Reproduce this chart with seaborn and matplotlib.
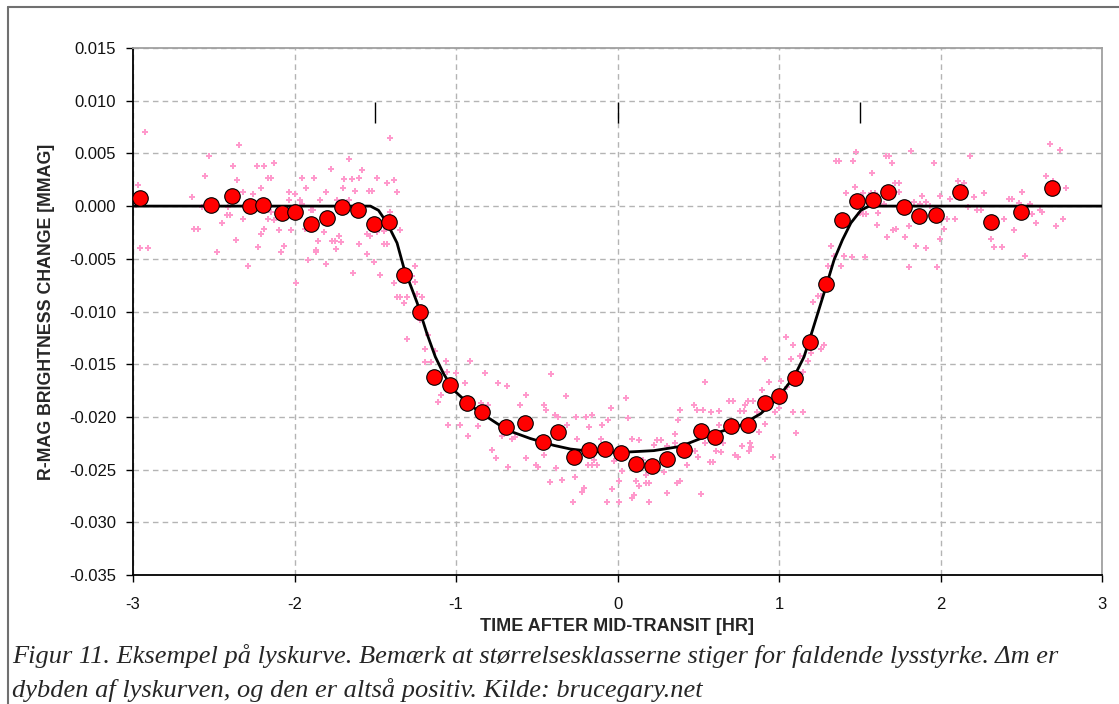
import numpy as np
import pandas as pd
import matplotlib
matplotlib.use('Agg')
import matplotlib.pyplot as plt
import seaborn as sns
from matplotlib.ticker import FormatStrFormatter
from matplotlib.lines import Line2D

# binned points (red circles)
bin_x = [-2.957, -2.516, -2.386, -2.277, -2.194, -2.080, -1.996, -1.895, -1.800, -1.704,
         -1.605, -1.510, -1.415, -1.322, -1.225, -1.138, -1.035, -0.932, -0.836, -0.688,
         -0.572, -0.460, -0.367, -0.272, -0.177, -0.078, 0.019, 0.116, 0.213, 0.304,
         0.414, 0.515, 0.602, 0.703, 0.810, 0.915, 1.002, 1.101, 1.191, 1.290,
         1.393, 1.483, 1.582, 1.675, 1.774, 1.865, 1.974, 2.121, 2.311, 2.499, 2.691]
bin_y = [0.0008, 0.0001, 0.0010, 0.0000, 0.0001, -0.0007, -0.0006, -0.0017, -0.0011, -0.0001,
         -0.0004, -0.0017, -0.0015, -0.0065, -0.0100, -0.0162, -0.0170, -0.0187, -0.0195, -0.0210,
         -0.0206, -0.0224, -0.0214, -0.0238, -0.0231, -0.0230, -0.0234, -0.0245, -0.0247, -0.0240,
         -0.0231, -0.0213, -0.0219, -0.0209, -0.0208, -0.0187, -0.0180, -0.0163, -0.0129, -0.0074,
         -0.0013, 0.00045, 0.00054, 0.0013, -0.0001, -0.00095, -0.00085, 0.0013, -0.0015, -0.0006, 0.0017]

# model fit (black line)
model_x = [-3.0, -1.53, -1.48, -1.427, -1.365, -1.324, -1.24, -1.18, -1.128, -1.077,
           -1.015, -0.911, -0.808, -0.684, -0.54, -0.395, -0.291, -0.147, 0.019, 0.225,
           0.39, 0.515, 0.638, 0.762, 0.886, 0.99, 1.093, 1.155, 1.207, 1.29,
           1.341, 1.393, 1.445, 1.507, 1.558, 3.0]
model_y = [0.0, 0.0, -0.0004, -0.0016, -0.0035, -0.0058, -0.0092, -0.0121, -0.0143, -0.0159,
           -0.01745, -0.0189, -0.0200, -0.02125, -0.02205, -0.0227, -0.02305, -0.0233, -0.02337, -0.0232,
           -0.0228, -0.02205, -0.0214, -0.0208, -0.0197, -0.01825, -0.0162, -0.0143, -0.0118, -0.0077,
           -0.0051, -0.0032, -0.0016, -0.0004, 0.0, 0.0]

# individual measurements (pink crosses)
raw_x = [-2.926, -2.971, -2.983, -2.955, -2.909, -2.636, -2.620, -2.600, -2.570, -2.554,
         -2.527, -2.481, -2.446, -2.415, -2.399, -2.409, -2.380, -2.353, -2.345, -2.363,
         -2.318, -2.318, -2.289, -2.256, -2.231, -2.190, -2.209, -2.209, -2.227, -2.190,
         -2.163, -2.145, -2.163, -2.147, -2.128, -2.126, -2.099, -2.081, -2.064, -2.037,
         -2.037, -2.019, -2.000, -1.992, -1.969, -1.954, -1.954, -1.928, -1.938, -1.917,
         -1.899, -1.884, -1.882, -1.866, -1.866, -1.853, -1.843, -1.818, -1.808, -1.802,
         -1.773, -1.765, -1.752, -1.746, -1.737, -1.725, -1.709, -1.698, -1.692, -1.663,
         -1.647, -1.663, -1.636, -1.626, -1.599, -1.583, -1.599, -1.554, -1.537, -1.520,
         -1.533, -1.554, -1.508, -1.492, -1.492, -1.473, -1.446, -1.430, -1.430, -1.409,
         -1.382, -1.382, -1.364, -1.347, -1.368, -1.347, -1.411, -1.448, -1.256, -1.275,
         -1.254, -1.304, -1.320, -1.242, -1.213, -1.223, -1.304, -1.176, -1.192, -1.130,
         -1.192, -1.155, -1.064, -0.911, -1.056, -0.998, -0.820, -0.411, -1.093, -1.110,
         -0.944, -1.048, -0.973, -0.928, -0.866, -0.845, -0.800, -0.737, -0.684, -0.713,
         -0.651, -0.634, -0.775, -0.754, -0.676, -0.601, -0.564, -0.564, -0.506, -0.494,
         -0.456, -0.440, -0.453, -0.416, -0.386, -0.366, -0.383, -0.345, -0.320, -0.312,
         -0.266, -0.258, -0.250, -0.275, -0.221, -0.205, -0.196, -0.155, -0.176, -0.184,
         -0.155, -0.130, -0.147, -0.093, -0.105, -0.064, -0.056, -0.039, -0.031, -0.019,
         0.010, 0.010, 0.027, 0.052, 0.068, 0.089, 0.134, 0.089, 0.101, 0.114,
         0.122, 0.134, 0.155, 0.176, 0.176, 0.197, 0.197, 0.225, 0.246, 0.267,
         0.291, 0.308, 0.353, 0.358, 0.374, 0.387, 0.308, 0.370, 0.387, 0.432,
         0.473, 0.494, 0.527, 0.482, 0.498, 0.515, 0.544, 0.544, 0.572, 0.589,
         0.581, 0.610, 0.630, 0.626, 0.643, 0.651, 0.692, 0.713, 0.725, 0.746,
         0.758, 0.783, 0.771, 0.787, 0.808, 0.820, 0.829, 0.816, 0.837, 0.866,
         0.879, 0.895, 0.915, 0.915, 0.940, 0.961, 0.977, 0.998, 1.010, 1.043,
         1.048, 1.072, 1.089, 1.089, 1.105, 1.130, 1.151, 1.151, 1.180, 1.196,
         1.262, 1.279, 1.213, 1.242, 1.262, 1.304, 1.320, 1.341, 1.403, 1.386,
         1.449, 1.531, 1.353, 1.370, 1.457, 1.477, 1.415, 1.469, 1.523, 1.502,
         1.523, 1.539, 1.576, 1.568, 1.593, 1.610, 1.605, 1.663, 1.680, 1.697,
         1.651, 1.668, 1.705, 1.725, 1.717, 1.742, 1.742, 1.779, 1.804, 1.804,
         1.820, 1.833, 1.849, 1.870, 1.886, 1.911, 1.911, 1.932, 1.957, 1.994,
         1.994, 2.023, 1.977, 2.043, 2.060, 2.089, 2.106, 2.143, 2.168, 2.184,
         2.205, 2.229, 2.250, 2.267, 2.312, 2.333, 2.378, 2.394, 2.423, 2.440,
         2.456, 2.485, 2.506, 2.523, 2.552, 2.568, 2.589, 2.614, 2.626, 2.651,
         2.676, 2.696, 2.713, 2.738, 2.759, 2.776]
raw_y = [0.0070, 0.0020, 0.0001, -0.00395, -0.00395, 0.0009, -0.00218, -0.00218, -0.0001, 0.00285,
         0.0048, -0.0044, -0.0016, -0.0008, -0.0008, -0.0001, 0.0038, 0.00245, 0.0058, -0.00325,
         0.0013, -0.0012, -0.00565, 0.00115, 0.0038, 0.0038, 0.0017, -0.0026, -0.00385, -0.00215,
         0.0027, 0.0027, -0.0012, -0.0006, 0.0041, -0.0013, -0.0023, -0.0044, -0.00375, 0.0013,
         0.0006, -0.0023, 0.00115, -0.0073, 0.0006, 0.0027, 0.0002, 0.0017, -0.00215, -0.0051,
         -0.00035, -0.00035, 0.0027, -0.00415, -0.0044, -0.0033, 0.0006, -0.0025, 0.0013, -0.00545,
         0.00355, -0.0033, -0.0033, -0.0041, 0.0006, -0.00285, -0.0034, 0.0017, 0.00255, 0.0045,
         0.00255, 0.0006, -0.0063, 0.00145, 0.0027, 0.0034, -0.00355, -0.0026, 0.00145, 0.00145,
         -0.00285, -0.00455, -0.00535, 0.0027, -0.0025, -0.0065, -0.00355, -0.00355, 0.00215, 0.0065,
         0.00245, -0.0073, 0.0013, -0.0023, -0.0086, -0.0086, -0.0006, -0.00235, -0.00565, -0.0066,
         -0.0072, -0.0086, -0.00915, -0.0083, -0.0086, -0.0108, -0.0126, -0.0122, -0.01355, -0.01375,
         -0.0148, -0.0148, -0.0147, -0.0147, -0.0157, -0.0158, -0.0158, -0.01595, -0.0179, -0.0186,
         -0.01675, -0.0208, -0.02075, -0.0218, -0.0209, -0.01865, -0.01885, -0.01675, -0.0171, -0.0218,
         -0.0221, -0.02195, -0.02315, -0.0239, -0.0248, -0.0189, -0.0179, -0.0239, -0.0246, -0.0248,
         -0.0189, -0.0193, -0.02365, -0.02615, -0.01985, -0.02005, -0.02485, -0.0260, -0.0180, -0.0208,
         -0.0257, -0.0200, -0.0221, -0.0281, -0.0271, -0.0267, -0.0200, -0.01985, -0.0210, -0.0246,
         -0.0246, -0.0246, -0.02405, -0.0208, -0.0221, -0.0281, -0.02025, -0.01915, -0.0268, -0.02415,
         -0.0261, -0.0281, -0.0251, -0.0182, -0.0201, -0.0221, -0.0222, -0.02765, -0.02745, -0.0261,
         -0.0249, -0.0266, -0.02405, -0.0255, -0.02625, -0.02625, -0.0281, -0.0227, -0.0222, -0.0222,
         -0.02525, -0.0272, -0.02165, -0.0225, -0.02025, -0.0193, -0.0228, -0.0263, -0.0261, -0.0246,
         -0.01885, -0.0193, -0.0193, -0.0232, -0.02385, -0.02735, -0.01665, -0.02245, -0.0243, -0.0243,
         -0.01955, -0.0232, -0.0194, -0.0208, -0.02335, -0.02245, -0.0185, -0.0185, -0.02365, -0.02385,
         -0.0194, -0.0194, -0.0228, -0.0189, -0.0185, -0.0225, -0.02285, -0.0232, -0.0185, -0.01955,
         -0.0214, -0.01745, -0.0207, -0.01455, -0.01665, -0.02385, -0.0195, -0.01915, -0.0166, -0.01245,
         -0.01715, -0.01455, -0.01315, -0.01955, -0.0215, -0.01425, -0.01575, -0.01955, -0.0147, -0.0139,
         -0.01355, -0.01315, -0.0091, -0.0085, -0.0085, -0.00565, -0.00375, -0.0047, -0.0047, -0.00565,
         -0.0048, -0.0048, 0.0043, 0.00425, 0.00425, 0.0051, 0.0012, 0.00185, 0.00125, -0.0007,
         -0.00075, -0.00075, 0.0031, 0.00125, 0.00125, -0.00065, -0.0018, 0.0048, 0.0048, 0.0041,
         0.0002, -0.0029, -0.0023, -0.00215, 0.00215, 0.00215, 0.0013, -0.0029, -0.0019, -0.00575,
         0.0052, 0.0004, -0.0038, 0.0002, 0.0010, 0.0004, -0.0040, 0.00005, 0.0041, 0.0010,
         -0.0031, -0.00215, -0.00575, -0.00125, 0.00065, -0.00125, 0.0024, 0.00215, -0.0001, 0.0048,
         0.0009, -0.0004, -0.0004, 0.0012, -0.00315, -0.00385, -0.00385, -0.0012, 0.00065, 0.00065,
         -0.0023, 0.0003, 0.0013, -0.0047, 0.0002, -0.00075, -0.00165, -0.0004, -0.00055, 0.00285,
         0.0059, 0.0024, -0.0019, 0.0053, -0.0012, 0.0017]

x_ticks = [-3, -2, -1, 0, 1, 2, 3]
y_ticks = [0.015, 0.010, 0.005, 0.000, -0.005, -0.010, -0.015, -0.020, -0.025, -0.030, -0.035]
contact_x = [-1.5, 0.0, 1.5]
contact_top = 0.0099
contact_bottom = 0.0079

caption_1 = 'Figur 11. Eksempel på lyskurve. Bemærk at størrelsesklasserne stiger for faldende lysstyrke. Δm er'
caption_2 = 'dybden af lyskurven, og den er altså positiv. Kilde: brucegary.net'

raw_df = pd.DataFrame({'t': raw_x, 'dm': raw_y})
bin_df = pd.DataFrame({'t': bin_x, 'dm': bin_y})
model_df = pd.DataFrame({'t': model_x, 'dm': model_y})

sns.set_style('white')
plt.rcParams['font.family'] = ['Liberation Sans', 'DejaVu Sans']
plt.rcParams['axes.unicode_minus'] = False

fig = plt.figure(figsize=(11.19, 7.04), dpi=100)
ax = fig.add_axes([133 / 1119, 1 - 575 / 704, (1102 - 133) / 1119, (575 - 48) / 704])

for yv in y_ticks:
    ax.axhline(yv, color='#b4b4b4', lw=1, ls=(0, (4, 3)), zorder=0)
for xv in x_ticks:
    ax.axvline(xv, color='#b4b4b4', lw=1, ls=(0, (4, 3)), zorder=0)

sns.scatterplot(data=raw_df, x='t', y='dm', marker='P', s=22, color='#ff99cc',
                linewidth=0, ax=ax, zorder=2)
sns.lineplot(data=model_df, x='t', y='dm', sort=False, estimator=None, color='black',
             lw=2, ax=ax, zorder=3)
sns.scatterplot(data=bin_df, x='t', y='dm', marker='o', s=125, color='#ff0000',
                edgecolor='black', linewidth=0.8, ax=ax, zorder=4)
ax.vlines(contact_x, contact_bottom, contact_top, color='black', lw=1, zorder=3)

ax.set_xlim(-3, 3)
ax.set_ylim(-0.035, 0.015)
ax.set_xticks(x_ticks)
ax.set_yticks(y_ticks)
ax.yaxis.set_major_formatter(FormatStrFormatter('%.3f'))
ax.tick_params(axis='both', direction='out', length=5, width=1, color='black',
               labelsize=12, labelcolor='#111111', left=True, bottom=True)
ax.tick_params(axis='y', pad=7)
ax.tick_params(axis='x', pad=11)

for side in ['left', 'bottom']:
    ax.spines[side].set_color('black')
    ax.spines[side].set_linewidth(1.3)
for side in ['top', 'right']:
    ax.spines[side].set_color('#a0a0a0')
    ax.spines[side].set_linewidth(1.3)

ax.set_xlabel('TIME AFTER MID-TRANSIT [HR]', fontsize=13, fontweight='bold', labelpad=4)
ax.set_ylabel('R-MAG BRIGHTNESS CHANGE [MMAG]', fontsize=12.8, fontweight='bold', labelpad=10)

# outer frame (top and left edges of the boxed figure)
fig.add_artist(Line2D([8 / 1119, 8 / 1119], [0, 1 - 7 / 704], transform=fig.transFigure,
                      color='#707070', lw=1.5))
fig.add_artist(Line2D([8 / 1119, 1], [1 - 7 / 704, 1 - 7 / 704], transform=fig.transFigure,
                      color='#707070', lw=1.5))

fig.text(12 / 1119, 1 - 663 / 704, caption_1, family=['Liberation Serif', 'DejaVu Serif'],
         style='italic', fontsize=19, va='baseline', ha='left')
fig.text(12 / 1119, 1 - 697 / 704, caption_2, family=['Liberation Serif', 'DejaVu Serif'],
         style='italic', fontsize=19, va='baseline', ha='left')

fig.savefig('out.png', dpi=100)
